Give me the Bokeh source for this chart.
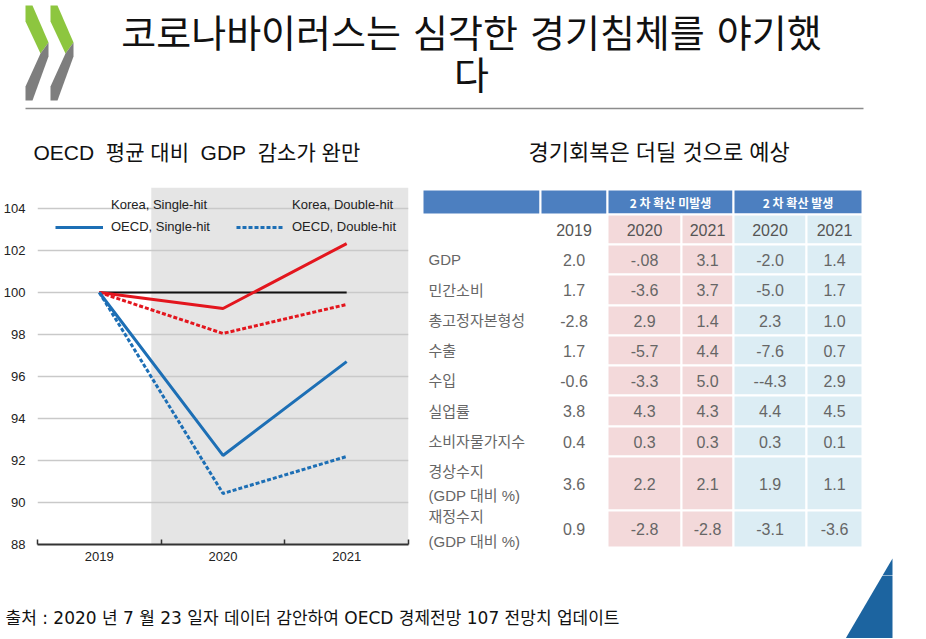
from bokeh.plotting import figure
from bokeh.models import Range1d, FixedTicker, BoxAnnotation, Legend, LegendItem
from bokeh.layouts import column, row
from bokeh.embed import file_html
from bokeh.resources import INLINE
from bokeh.core.properties import value

# ---------------- data ----------------
years = ["2019", "2020", "2021"]
korea_single = [100, 99.24, 102.33]
korea_double = [100, 98.05, 99.43]
oecd_single = [100, 92.24, 96.71]
oecd_double = [100, 90.43, 92.19]
baseline = [100, 100, 100]
y_ticks = [88, 90, 92, 94, 96, 98, 100, 102, 104]

row_labels = ["GDP", "민간소비", "총고정자본형성", "수출", "수입", "실업률",
              "소비자물가지수", "경상수지\n(GDP 대비 %)", "재정수지\n(GDP 대비 %)"]
col_years = ["2019", "2020", "2021", "2020", "2021"]
group_labels = ["2 차 확산 미발생", "2 차 확산 발생"]
val_2019 = ["2.0", "1.7", "-2.8", "1.7", "-0.6", "3.8", "0.4", "3.6", "0.9"]
val_2020_single = ["-.08", "-3.6", "2.9", "-5.7", "-3.3", "4.3", "0.3", "2.2", "-2.8"]
val_2021_single = ["3.1", "3.7", "1.4", "4.4", "5.0", "4.3", "0.3", "2.1", "-2.8"]
val_2020_double = ["-2.0", "-5.0", "2.3", "-7.6", "--4.3", "4.4", "0.3", "1.9", "-3.1"]
val_2021_double = ["1.4", "1.7", "1.0", "0.7", "2.9", "4.5", "0.1", "1.1", "-3.6"]

title_lines = ["코로나바이러스는 심각한 경기침체를 야기했", "다"]
chart_subtitle = "OECD\u00a0 평균 대비\u00a0 GDP\u00a0 감소가 완만"
table_subtitle = "경기회복은 더딜 것으로 예상"
footer_text = "출처 : 2020 년 7 월 23 일자 데이터 감안하여 OECD 경제전망 107 전망치 업데이트"

# ---------------- styles ----------------
KR = "Noto Sans CJK KR"
SANS = "Liberation Sans, Noto Sans CJK KR"
AX = "Liberation Sans"
RED = "#e3161e"
BLUE = "#1d6fb5"
HEAD_BLUE = "#4c7fc0"
PINK = "#f3d9da"
LBLUE = "#dcedf4"
TRI_BLUE = "#1c64a0"


def canvas(w, h, x0, y0):
    f = figure(width=w, height=h, x_range=Range1d(x0, x0 + w), y_range=Range1d(y0 + h, y0),
               output_backend="svg", toolbar_location=None, min_border=0, title=None,
               x_axis_location=None, y_axis_location=None)
    f.grid.visible = False
    f.outline_line_color = None
    return f


# ---------------- header ----------------
hdr = canvas(926, 180, 0, 0)
green_x = [25, 32, 48, 40, 25]
green_y = [5, 5, 42, 53, 21]
gray_x = [40, 48, 48, 32, 25, 25]
gray_y = [53, 42, 56, 100, 100, 86]
for dx in (0, 25):
    hdr.patch([v + dx for v in green_x], green_y, fill_color="#8dc63f", line_color=None)
    hdr.patch([v + dx for v in gray_x], gray_y, fill_color="#7e7e7e", line_color=None)
hdr.segment(x0=[25], y0=[108], x1=[863], y1=[108], line_color="#8c8c8c", line_width=1.5)
hdr.text(x=[471, 471], y=[33, 75], text=title_lines, text_align="center", text_baseline="alphabetic",
         text_font=value("DejaVu Sans, Noto Sans CJK KR"), text_font_size="38px", text_color="#111111")
hdr.text(x=[33], y=[152], text=[chart_subtitle], text_align="left", text_baseline="middle",
         text_font=value(SANS), text_font_size="21px", text_color="#111111")
hdr.text(x=[528], y=[152], text=[table_subtitle], text_align="left", text_baseline="middle",
         text_font=value(SANS), text_font_size="22px", text_color="#111111")

# ---------------- line chart ----------------
xs = [i + 0.5 for i in range(len(years))]
p = figure(width=415, height=395, x_range=Range1d(0, 3), y_range=Range1d(88, 105),
           output_backend="svg", toolbar_location=None, title=None,
           min_border_left=37, min_border_right=7, min_border_top=7, min_border_bottom=31)
p.outline_line_color = None
p.xgrid.visible = False
p.yaxis.ticker = FixedTicker(ticks=y_ticks)
p.ygrid.grid_line_color = "#c9c9c9"
p.ygrid.grid_line_width = 1.5
p.yaxis.axis_line_color = None
p.yaxis.major_tick_line_color = None
p.yaxis.minor_tick_line_color = None
p.yaxis.major_tick_out = 0
p.yaxis.major_tick_in = 0
p.yaxis.minor_tick_out = 0
p.yaxis.minor_tick_in = 0
p.yaxis.major_label_standoff = 12
p.yaxis.major_label_text_font = AX
p.yaxis.major_label_text_font_size = "13px"
p.yaxis.major_label_text_color = "#222222"

p.xaxis.ticker = FixedTicker(ticks=xs, minor_ticks=[0, 1, 2, 3])
p.xaxis.major_label_overrides = {x: y for x, y in zip(xs, years)}
p.xaxis.major_tick_line_color = None
p.xaxis.major_tick_out = 0
p.xaxis.major_tick_in = 0
p.xaxis.minor_tick_in = 5
p.xaxis.minor_tick_out = 0
p.xaxis.minor_tick_line_color = "#333333"
p.xaxis.minor_tick_line_width = 1.5
p.xaxis.axis_line_color = "#333333"
p.xaxis.axis_line_width = 2
p.xaxis.major_label_standoff = 7
p.xaxis.major_label_text_font = AX
p.xaxis.major_label_text_font_size = "13px"
p.xaxis.major_label_text_color = "#222222"

shade = BoxAnnotation(left=0.92, right=3, bottom=88, top=105, fill_color="#e5e5e5",
                      fill_alpha=1, line_color=None, level="image")
p.add_layout(shade)

p.line(xs, baseline, line_color="#111111", line_width=2)
p.line(xs, korea_single, line_color=RED, line_width=3)
p.line(xs, korea_double, line_color=RED, line_width=3, line_dash="4 2")
r_os = p.line(xs, oecd_single, line_color=BLUE, line_width=3)
r_od = p.line(xs, oecd_double, line_color=BLUE, line_width=3, line_dash="4 2")
r_ks = p.line([], [], line_color=None)
r_kd = p.line([], [], line_color=None)

for lbl, rr, loc in [("Korea, Single-hit", r_ks, (18, 332)), ("Korea, Double-hit", r_kd, (199, 332)),
                     ("OECD, Single-hit", r_os, (18, 310)), ("OECD, Double-hit", r_od, (199, 310))]:
    lg = Legend(items=[LegendItem(label=lbl, renderers=[rr])], location=loc,
                padding=0, margin=0, border_line_color=None, background_fill_alpha=0,
                glyph_width=48, glyph_height=14, label_height=14, label_standoff=8,
                label_text_font=AX, label_text_font_size="13px", label_text_color="#222222",
                label_text_baseline="middle")
    p.add_layout(lg)

# ---------------- table ----------------
tb = canvas(511, 395, 415, 180)
col_edges = [422, 540, 607, 681, 733, 806, 862]
head_top, head_bot = 189, 214
row_edges = [214, 244, 274, 305, 335, 365, 395, 426, 456, 510, 547]

hl = [col_edges[0], col_edges[1], col_edges[2], col_edges[4]]
hr = [col_edges[1], col_edges[2], col_edges[4], col_edges[6]]
tb.quad(left=hl, right=hr, top=[head_top] * 4, bottom=[head_bot] * 4,
        fill_color=HEAD_BLUE, line_color="white", line_width=2)
tb.text(x=[(col_edges[2] + col_edges[4]) / 2, (col_edges[4] + col_edges[6]) / 2],
        y=[(head_top + head_bot) / 2] * 2, text=group_labels, text_align="center",
        text_baseline="middle", text_font=value(KR), text_font_size="12px",
        text_font_style="bold", text_color="white")

cl, cr, ct, cb, cc = [], [], [], [], []
for ri in range(len(row_edges) - 1):
    for ci in range(2, 6):
        cl.append(col_edges[ci]); cr.append(col_edges[ci + 1])
        ct.append(row_edges[ri]); cb.append(row_edges[ri + 1])
        cc.append(PINK if ci < 4 else LBLUE)
tb.quad(left=cl, right=cr, top=ct, bottom=cb, fill_color=cc, line_color="white", line_width=2)

centers = [(col_edges[i] + col_edges[i + 1]) / 2 for i in range(1, 6)]
tb.text(x=centers, y=[(row_edges[0] + row_edges[1]) / 2] * 5, text=col_years,
        text_align="center", text_baseline="middle", text_font=value(SANS),
        text_font_size="16px", text_color="#555555")

rc = [(row_edges[i] + row_edges[i + 1]) / 2 for i in range(1, len(row_edges) - 1)]
tb.text(x=[428] * len(row_labels), y=rc, text=row_labels, text_align="left",
        text_baseline="middle", text_font=value(SANS), text_font_size="15px",
        text_color="#666666", text_line_height=1.45)
vx, vy, vt = [], [], []
for ci, col in enumerate([val_2019, val_2020_single, val_2021_single, val_2020_double, val_2021_double]):
    for ri, v in enumerate(col):
        vx.append(centers[ci]); vy.append(rc[ri]); vt.append(v)
tb.text(x=vx, y=vy, text=vt, text_align="center", text_baseline="middle",
        text_font=value(SANS), text_font_size="16px", text_color="#666666")

tri_x = [892, 892, 841]
tri_y = [558, 645, 645]
tb.patch(tri_x, tri_y, fill_color=TRI_BLUE, line_color=None)

# ---------------- footer ----------------
ft = canvas(926, 63, 0, 575)
ft.patch(tri_x, tri_y, fill_color=TRI_BLUE, line_color=None)
ft.text(x=[5], y=[617], text=[footer_text], text_align="left", text_baseline="middle",
        text_font=value("DejaVu Sans, Noto Sans CJK KR"), text_font_size="17px", text_color="#111111")

layout = column(hdr, row(column(p), column(tb)), ft)
open("out.html", "w").write(file_html(layout, INLINE))
